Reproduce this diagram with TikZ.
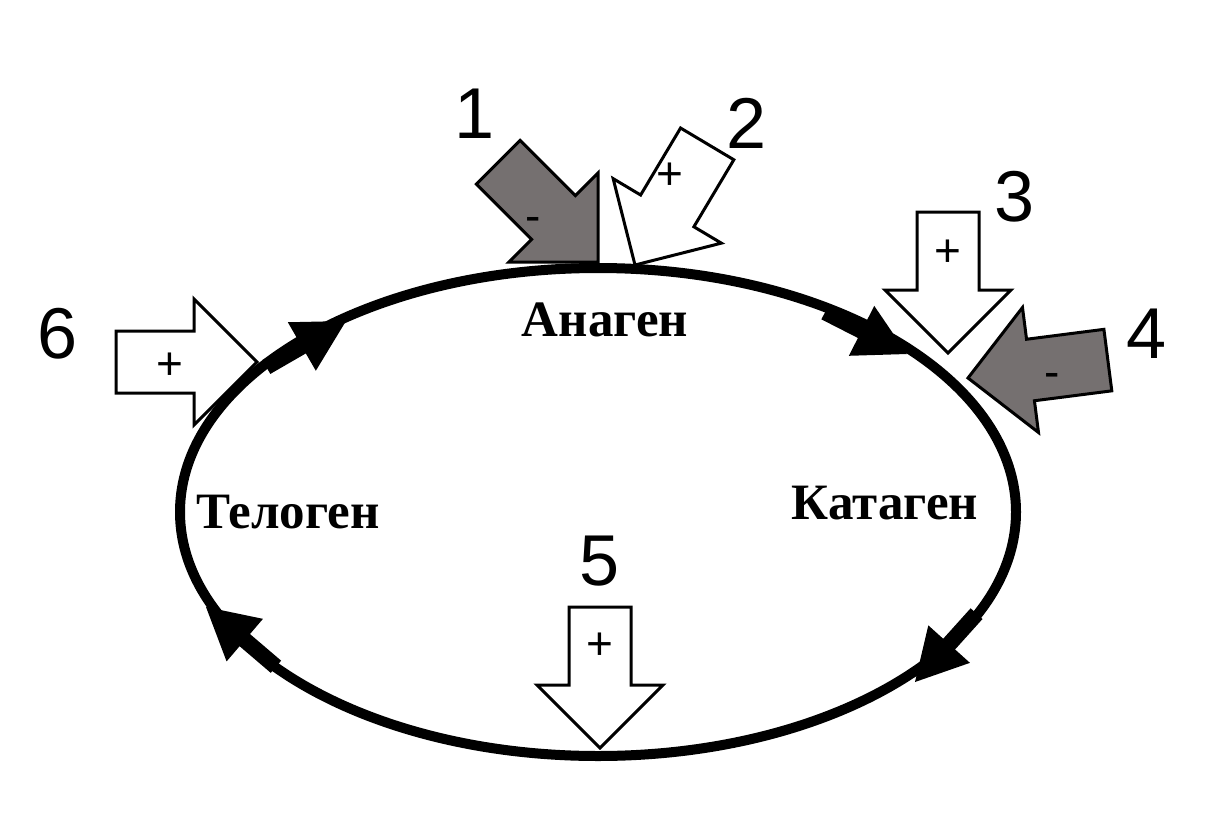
\documentclass[tikz,border=0pt]{standalone}
\usepackage{fontspec}
\setmainfont{Liberation Serif}
\newfontfamily\arialfont{Liberation Sans}
\definecolor{ggray}{RGB}{117,112,112}
\tikzset{
  cyclepath/.style={line width=10pt},
  pics/blockarrow/.style={code={
    \draw[line width=3pt, line join=miter, fill=#1]
      (0,0) -- (-63,-63) -- (-63,-31) -- (-141,-31) -- (-141,31) -- (-63,31) -- (-63,63) -- cycle;}},
  pics/blockarrow/.default=white,
  pics/cyclehead/.style={code={
    \fill (0,0) -- (-51,-28) -- (-51,28) -- cycle;
    \draw[line width=16pt] (-49,0) -- (-92,0);}},
  phase/.style={font=\bfseries\fontsize{51}{54}\selectfont, inner sep=0pt, anchor=base},
  num/.style={font=\arialfont\fontsize{72}{76}\selectfont, inner sep=0pt, anchor=base},
  sign/.style={font=\arialfont\fontsize{46}{48}\selectfont, inner sep=0pt, anchor=base},
}
\begin{document}
\begin{tikzpicture}[x=1pt,y=-1pt]
\useasboundingbox[fill=white] (0,0) rectangle (1226,814);

% cycle
\draw[cyclepath] (598,512) ellipse [x radius=418pt, y radius=244pt];
\pic[rotate=30] (hA) at (346,321) {cyclehead};
\pic[rotate=-27] (hB) at (907,354) {cyclehead};
\pic[rotate=228] (hC) at (915,682) {cyclehead};
\pic[rotate=139.5] (hD) at (206,607) {cyclehead};

% phases
\node[phase] (anagen) at (605,336) {Анаген};
\node[phase] (telogen) at (288,528) {Телоген};
\node[phase] (katagen) at (885,519) {Катаген};

% block arrows
\pic[rotate=-45] (a1) at (598,262) {blockarrow=ggray};
\pic[rotate=239.2] (a2) at (635,265) {blockarrow};
\pic[rotate=-90] (a3) at (948,353) {blockarrow};
\pic[rotate=187.3] (a4) at (968,378) {blockarrow=ggray};
\pic[rotate=-90] (a5) at (600,748) {blockarrow};
\pic[rotate=0] (a6) at (257,362) {blockarrow};

% signs
\node[sign] (s1) at (533,231) {-};
\node[sign] (s2) at (670,189) {+};
\node[sign] (s3) at (948,266) {+};
\node[sign] (s4) at (1052,387) {-};
\node[sign] (s5) at (600,659) {+};
\node[sign] (s6) at (170,379) {+};

% numbers
\node[num] (n1) at (475,138) {1};
\node[num] (n2) at (747,148) {2};
\node[num] (n3) at (1015,221) {3};
\node[num] (n4) at (1147,358) {4};
\node[num] (n5) at (600,585) {5};
\node[num] (n6) at (58,358) {6};
\end{tikzpicture}
\end{document}
